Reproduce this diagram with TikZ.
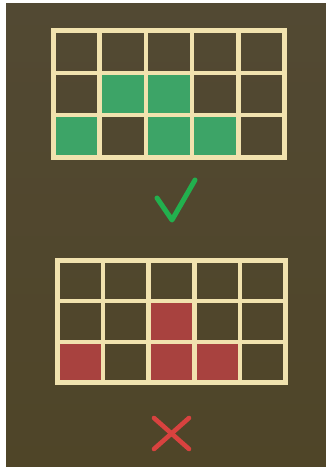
\documentclass[tikz,border=0pt]{standalone}
\definecolor{boardtop}{HTML}{524933}
\definecolor{boardbot}{HTML}{4F4528}
\definecolor{cream}{HTML}{F1E2AE}
\definecolor{okgreen}{HTML}{3DA467}
\definecolor{badred}{HTML}{A8423F}
\definecolor{tickgreen}{HTML}{22B04E}
\definecolor{crossred}{HTML}{D8423F}

\begin{document}
\begin{tikzpicture}[x=1pt, y=1pt,
	gridline/.style={draw=cream, line width=4.6pt},
	okcell/.style={fill=okgreen},
	badcell/.style={fill=badred},
	tick/.style={draw=tickgreen, line width=5pt, line cap=round, line join=round},
	cross/.style={draw=crossred, line width=4.6pt, line cap=round},
	]
	
	% page and board
	\useasboundingbox (0,0) rectangle (326,467);
	\fill[white] (0,0) rectangle (326,467);
	\shade[top color=boardtop, bottom color=boardbot] (6,0) rectangle (326,463);
	
	% upper grid (allowed pattern)
	\begin{scope}[shift={(53.5,309.5)}, x=46.2pt, y=42.33pt]
		\foreach \c/\r in {1/1, 2/1, 0/0, 2/0, 3/0}
		\fill[okcell] (\c,\r) rectangle ++(1,1);
		\foreach \c in {1,...,4}
		\draw[gridline] (\c,0) -- (\c,3);
		\foreach \r in {1,2}
		\draw[gridline] (0,\r) -- (5,\r);
		\draw[gridline] (0,0) rectangle (5,3);
	\end{scope}
	
	% tick
	\coordinate (t1) at (157,269);
	\coordinate (t2) at (172,247);
	\coordinate (t3) at (195,287);
	\draw[tick] (t1) -- (t2) -- (t3);
	
	% lower grid (wrong pattern)
	\begin{scope}[shift={(57.5,84.5)}, x=45.6pt, y=40.67pt]
		\foreach \c/\r in {2/1, 0/0, 2/0, 3/0}
		\fill[badcell] (\c,\r) rectangle ++(1,1);
		\foreach \c in {1,...,4}
		\draw[gridline] (\c,0) -- (\c,3);
		\foreach \r in {1,2}
		\draw[gridline] (0,\r) -- (5,\r);
		\draw[gridline] (0,0) rectangle (5,3);
	\end{scope}
	
	% cross
	\coordinate (x1) at (154,49);
	\coordinate (x2) at (189,18);
	\coordinate (x3) at (189,49);
	\coordinate (x4) at (154,18);
	\draw[cross] (x1) -- (x2);
	\draw[cross] (x3) -- (x4);
	
\end{tikzpicture}
\end{document}
